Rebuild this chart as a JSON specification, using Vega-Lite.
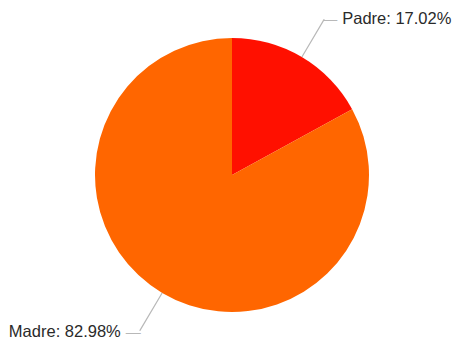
{
  "$schema": "https://vega.github.io/schema/vega-lite/v6.json",
  "width": 456,
  "height": 340,
  "autosize": {"type": "fit", "contains": "padding"},
  "padding": {"left": 8, "top": 10, "right": 0, "bottom": 0},
  "background": "white",
  "view": {"stroke": null},
  "data": {"values": [
    {"progenitor": "Padre", "porcentaje": 17.02},
    {"progenitor": "Madre", "porcentaje": 82.98}
  ]},
  "transform": [
    {"window": [{"op": "sum", "field": "porcentaje", "as": "acum"}], "sort": [{"field": "porcentaje", "order": "ascending"}], "frame": [null, 0]},
    {"calculate": "datum.acum - datum.porcentaje/2", "as": "medio"},
    {"calculate": "datum.medio - 0.06", "as": "m0"},
    {"calculate": "datum.medio + 0.06", "as": "m1"},
    {"calculate": "datum.progenitor + ': ' + format(datum.porcentaje, '.2f') + '%'", "as": "etiqueta"}
  ],
  "layer": [
    {
      "mark": {"type": "arc", "outerRadius": 137},
      "encoding": {
        "theta": {"field": "porcentaje", "type": "quantitative", "stack": true},
        "color": {"field": "progenitor", "type": "nominal", "scale": {"domain": ["Padre", "Madre"], "range": ["#FF1000", "#FF6600"]}, "legend": null},
        "order": {"field": "porcentaje", "sort": "ascending"}
      }
    },
    {
      "mark": {"type": "arc", "outerRadius": 181, "innerRadius": 137, "color": "#b8b8b8"},
      "encoding": {
        "theta": {"field": "m0", "type": "quantitative", "stack": null},
        "theta2": {"field": "m1"}
      }
    },
    {
      "transform": [{"filter": "datum.progenitor == 'Padre'"}],
      "mark": {"type": "text", "align": "left", "baseline": "middle", "fontSize": 14, "font": "Liberation Sans", "color": "#b8b8b8", "dx": -1, "dy": 1},
      "encoding": {
        "theta": {"field": "medio", "type": "quantitative", "stack": null},
        "radius": {"value": 181},
        "text": {"value": "—"}
      }
    },
    {
      "transform": [{"filter": "datum.progenitor == 'Padre'"}],
      "mark": {"type": "text", "align": "left", "baseline": "middle", "fontSize": 16.5, "font": "Liberation Sans", "color": "#2a2a2a", "dx": 18},
      "encoding": {
        "theta": {"field": "medio", "type": "quantitative", "stack": null},
        "radius": {"value": 181},
        "text": {"field": "etiqueta"}
      }
    },
    {
      "transform": [{"filter": "datum.progenitor == 'Madre'"}],
      "mark": {"type": "text", "align": "right", "baseline": "middle", "fontSize": 15, "font": "Liberation Sans", "color": "#b8b8b8", "dx": 1, "dy": 1},
      "encoding": {
        "theta": {"field": "medio", "type": "quantitative", "stack": null},
        "radius": {"value": 181},
        "text": {"value": "—"}
      }
    },
    {
      "transform": [{"filter": "datum.progenitor == 'Madre'"}],
      "mark": {"type": "text", "align": "right", "baseline": "middle", "fontSize": 16.5, "font": "Liberation Sans", "color": "#2a2a2a", "dx": -19, "dy": 1},
      "encoding": {
        "theta": {"field": "medio", "type": "quantitative", "stack": null},
        "radius": {"value": 181},
        "text": {"field": "etiqueta"}
      }
    }
  ]
}
